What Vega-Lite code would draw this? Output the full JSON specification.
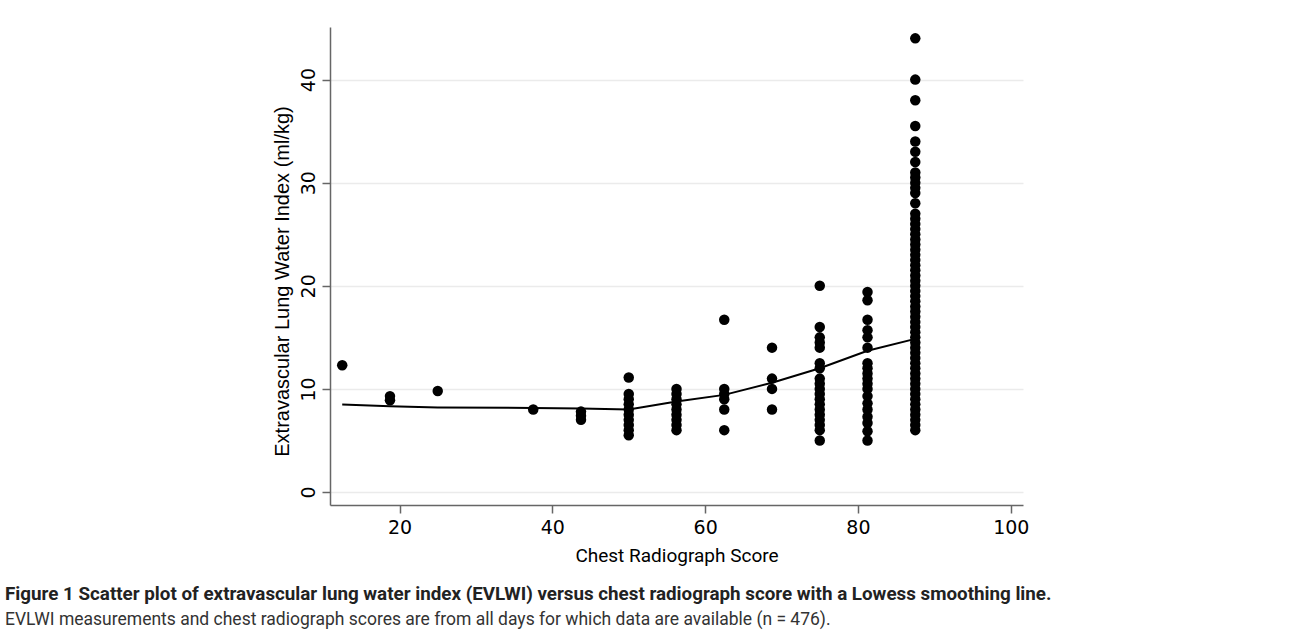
{
  "$schema": "https://vega.github.io/schema/vega-lite/v6.json",
  "width": 693,
  "height": 478,
  "autosize": {"type": "none"},
  "padding": {"left": 330, "top": 27, "right": 269, "bottom": 131},
  "background": "white",
  "config": {
    "view": {"stroke": null},
    "axis": {"domainColor": "#666666", "domainWidth": 1.5, "tickColor": "#666666", "tickWidth": 1.5, "tickSize": 8, "labelColor": "#000000", "titleColor": "#000000"}
  },
  "title": {
    "text": "Figure 1 Scatter plot of extravascular lung water index (EVLWI) versus chest radiograph score with a Lowess smoothing line.",
    "subtitle": "EVLWI measurements and chest radiograph scores are from all days for which data are available (n = 476).",
    "orient": "bottom",
    "anchor": "start",
    "frame": "group",
    "dx": -325,
    "offset": 20,
    "font": "Roboto",
    "fontSize": 18.8,
    "fontWeight": "bold",
    "color": "#222222",
    "subtitleFont": "Roboto",
    "subtitleFontSize": 17.5,
    "subtitleColor": "#333333",
    "subtitlePadding": 7
  },
  "datasets": {
    "points": [
      {"score": 12.5, "evlwi": 12.3},
      {"score": 18.75, "evlwi": 9.3}, {"score": 18.75, "evlwi": 8.9},
      {"score": 25, "evlwi": 9.8},
      {"score": 37.5, "evlwi": 8.0},
      {"score": 43.75, "evlwi": 7.8}, {"score": 43.75, "evlwi": 7.4}, {"score": 43.75, "evlwi": 7.0},
      {"score": 50, "evlwi": 11.1}, {"score": 50, "evlwi": 9.5}, {"score": 50, "evlwi": 9.0}, {"score": 50, "evlwi": 8.5}, {"score": 50, "evlwi": 8.0}, {"score": 50, "evlwi": 7.5}, {"score": 50, "evlwi": 7.0}, {"score": 50, "evlwi": 6.5}, {"score": 50, "evlwi": 6.0}, {"score": 50, "evlwi": 5.5},
      {"score": 56.25, "evlwi": 10.0}, {"score": 56.25, "evlwi": 9.5}, {"score": 56.25, "evlwi": 9.0}, {"score": 56.25, "evlwi": 8.5}, {"score": 56.25, "evlwi": 8.0}, {"score": 56.25, "evlwi": 7.5}, {"score": 56.25, "evlwi": 7.0}, {"score": 56.25, "evlwi": 6.5}, {"score": 56.25, "evlwi": 6.0},
      {"score": 62.5, "evlwi": 16.7}, {"score": 62.5, "evlwi": 10.0}, {"score": 62.5, "evlwi": 9.5}, {"score": 62.5, "evlwi": 9.0}, {"score": 62.5, "evlwi": 8.0}, {"score": 62.5, "evlwi": 6.0},
      {"score": 68.75, "evlwi": 14.0}, {"score": 68.75, "evlwi": 11.0}, {"score": 68.75, "evlwi": 10.0}, {"score": 68.75, "evlwi": 8.0},
      {"score": 75, "evlwi": 20.0}, {"score": 75, "evlwi": 16.0}, {"score": 75, "evlwi": 15.0}, {"score": 75, "evlwi": 14.5}, {"score": 75, "evlwi": 14.0}, {"score": 75, "evlwi": 12.5}, {"score": 75, "evlwi": 12.0}, {"score": 75, "evlwi": 11.0}, {"score": 75, "evlwi": 10.5}, {"score": 75, "evlwi": 10.0}, {"score": 75, "evlwi": 9.5}, {"score": 75, "evlwi": 9.0}, {"score": 75, "evlwi": 8.5}, {"score": 75, "evlwi": 8.0}, {"score": 75, "evlwi": 7.5}, {"score": 75, "evlwi": 7.0}, {"score": 75, "evlwi": 6.5}, {"score": 75, "evlwi": 6.0}, {"score": 75, "evlwi": 5.0},
      {"score": 81.25, "evlwi": 19.4}, {"score": 81.25, "evlwi": 18.6}, {"score": 81.25, "evlwi": 16.7}, {"score": 81.25, "evlwi": 15.7}, {"score": 81.25, "evlwi": 15.0}, {"score": 81.25, "evlwi": 14.0}, {"score": 81.25, "evlwi": 12.5}, {"score": 81.25, "evlwi": 12.0}, {"score": 81.25, "evlwi": 11.5}, {"score": 81.25, "evlwi": 11.0}, {"score": 81.25, "evlwi": 10.5}, {"score": 81.25, "evlwi": 10.0}, {"score": 81.25, "evlwi": 9.3}, {"score": 81.25, "evlwi": 8.6}, {"score": 81.25, "evlwi": 8.0}, {"score": 81.25, "evlwi": 7.3}, {"score": 81.25, "evlwi": 6.7}, {"score": 81.25, "evlwi": 5.9}, {"score": 81.25, "evlwi": 5.0},
      {"score": 87.5, "evlwi": 6.0}, {"score": 87.5, "evlwi": 6.5}, {"score": 87.5, "evlwi": 7.0}, {"score": 87.5, "evlwi": 7.5}, {"score": 87.5, "evlwi": 8.0}, {"score": 87.5, "evlwi": 8.5}, {"score": 87.5, "evlwi": 9.0}, {"score": 87.5, "evlwi": 9.5}, {"score": 87.5, "evlwi": 10.0}, {"score": 87.5, "evlwi": 10.5}, {"score": 87.5, "evlwi": 11.0}, {"score": 87.5, "evlwi": 11.5}, {"score": 87.5, "evlwi": 12.0}, {"score": 87.5, "evlwi": 12.5}, {"score": 87.5, "evlwi": 13.0}, {"score": 87.5, "evlwi": 13.5}, {"score": 87.5, "evlwi": 14.0}, {"score": 87.5, "evlwi": 14.5}, {"score": 87.5, "evlwi": 15.0}, {"score": 87.5, "evlwi": 15.5}, {"score": 87.5, "evlwi": 16.0}, {"score": 87.5, "evlwi": 16.5}, {"score": 87.5, "evlwi": 17.0}, {"score": 87.5, "evlwi": 17.5}, {"score": 87.5, "evlwi": 18.0}, {"score": 87.5, "evlwi": 18.5}, {"score": 87.5, "evlwi": 19.0}, {"score": 87.5, "evlwi": 19.5}, {"score": 87.5, "evlwi": 20.0}, {"score": 87.5, "evlwi": 20.5}, {"score": 87.5, "evlwi": 21.0}, {"score": 87.5, "evlwi": 21.5}, {"score": 87.5, "evlwi": 22.0}, {"score": 87.5, "evlwi": 22.5}, {"score": 87.5, "evlwi": 23.0}, {"score": 87.5, "evlwi": 23.5}, {"score": 87.5, "evlwi": 24.0}, {"score": 87.5, "evlwi": 24.5}, {"score": 87.5, "evlwi": 25.0}, {"score": 87.5, "evlwi": 25.5}, {"score": 87.5, "evlwi": 26.0}, {"score": 87.5, "evlwi": 26.5}, {"score": 87.5, "evlwi": 27.0}, {"score": 87.5, "evlwi": 28.0}, {"score": 87.5, "evlwi": 29.0}, {"score": 87.5, "evlwi": 29.5}, {"score": 87.5, "evlwi": 30.0}, {"score": 87.5, "evlwi": 30.5}, {"score": 87.5, "evlwi": 31.0}, {"score": 87.5, "evlwi": 32.0}, {"score": 87.5, "evlwi": 33.0}, {"score": 87.5, "evlwi": 34.0}, {"score": 87.5, "evlwi": 35.5}, {"score": 87.5, "evlwi": 38.0}, {"score": 87.5, "evlwi": 40.0}, {"score": 87.5, "evlwi": 44.0}
    ],
    "lowess": [
      {"score": 12.5, "fit": 8.48},
      {"score": 18.75, "fit": 8.32},
      {"score": 25, "fit": 8.2},
      {"score": 37.5, "fit": 8.15},
      {"score": 43.75, "fit": 8.1},
      {"score": 50, "fit": 8.0},
      {"score": 56.25, "fit": 8.77},
      {"score": 62.5, "fit": 9.42},
      {"score": 68.75, "fit": 10.6},
      {"score": 75, "fit": 12.0},
      {"score": 81.25, "fit": 13.7},
      {"score": 87.5, "fit": 14.85}
    ]
  },
  "layer": [
    {
      "data": {"name": "points"},
      "mark": {"type": "point", "filled": true, "shape": "circle", "color": "#000000", "opacity": 1, "size": 110},
      "encoding": {
        "x": {"field": "score", "type": "quantitative", "scale": {"domain": [10.9, 101.6], "nice": false, "zero": false},
          "axis": {"values": [20, 40, 60, 80, 100], "grid": false, "title": "Chest Radiograph Score", "labelFont": "DejaVu Sans", "labelFontSize": 19, "labelPadding": 5, "titleFont": "Roboto", "titleFontSize": 19, "titleFontWeight": "normal", "titlePadding": 9}},
        "y": {"field": "evlwi", "type": "quantitative", "scale": {"domain": [-1.26, 45.1], "nice": false, "zero": false},
          "axis": {"values": [0, 10, 20, 30, 40], "grid": true, "gridColor": "#ebebeb", "gridWidth": 1.5, "title": "Extravascular Lung Water Index (ml/kg)", "titleY": 254, "labelFont": "DejaVu Sans", "labelFontSize": 19, "labelAngle": -90, "labelAlign": "center", "labelBaseline": "bottom", "labelPadding": 4, "titleFont": "Liberation Sans", "titleFontSize": 20, "titleFontWeight": "normal", "titlePadding": 7}}
      }
    },
    {
      "data": {"name": "lowess"},
      "mark": {"type": "line", "color": "#000000", "strokeWidth": 2},
      "encoding": {
        "x": {"field": "score", "type": "quantitative"},
        "y": {"field": "fit", "type": "quantitative"}
      }
    }
  ]
}
